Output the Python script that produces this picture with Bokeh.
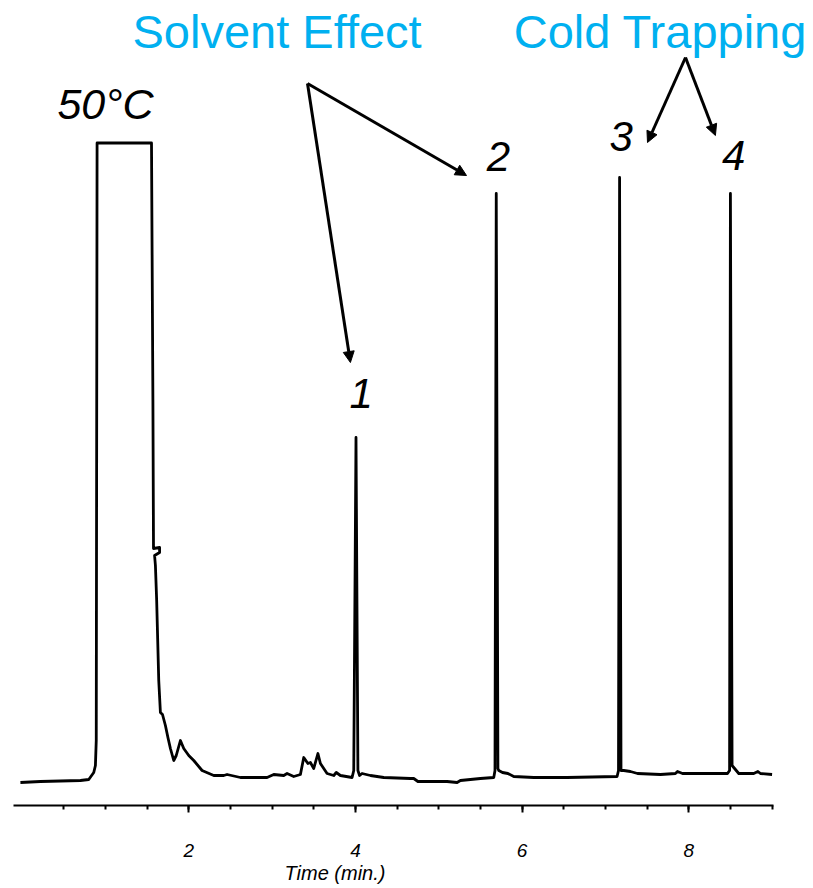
from bokeh.plotting import figure
from bokeh.models import FixedTicker, Label, Arrow, NormalHead, Range1d, Title
from bokeh.embed import file_html
from bokeh.resources import INLINE

# ---- data (time in min, detector signal in arbitrary units) ----
time_min = [
    -0.02, 0.22, 0.46, 0.70, 0.80, 0.86, 0.88, 0.89, 0.90,
    1.553, 1.57, 1.577, 1.65, 1.65, 1.59, 1.60, 1.615, 1.64, 1.66, 1.685,
    1.72, 1.75, 1.78, 1.82, 1.85, 1.90, 1.94, 2.00, 2.06, 2.16, 2.30, 2.42,
    2.46, 2.62, 2.94, 3.02, 3.14, 3.18, 3.26, 3.34, 3.38, 3.43, 3.46, 3.50,
    3.55, 3.58, 3.66, 3.74, 3.77, 3.82, 3.96, 3.98, 4.007, 4.03, 4.05, 4.08,
    4.18, 4.34, 4.66, 4.70, 4.75, 5.10, 5.22, 5.26, 5.50, 5.66, 5.675, 5.69,
    5.71, 5.72, 5.765, 5.83, 5.90, 6.14, 6.54, 7.14, 7.157, 7.17, 7.187,
    7.22, 7.30, 7.385, 7.66, 7.84, 7.865, 7.925, 8.14, 8.465, 8.49, 8.50,
    8.52, 8.54, 8.60, 8.78, 8.83, 8.86, 9.00,
]
signal = [
    -2, -1, -0.5, 0, 1, 8, 15, 40, 637.5,
    637.5, 380, 232, 233, 228, 225, 215, 180, 100, 68, 66,
    55, 43, 32, 20, 25, 40, 32, 25, 20, 10, 5, 5,
    6, 3, 3, 6, 5, 7, 4, 6, 23, 17, 18, 12,
    27, 17, 7, 5, 8, 5, 3, 10, 343, 10, 5, 7,
    5, 3, 2, 2, -1, -1, -2, 0, 2, 3, 10, 587,
    12, 10, 8, 7, 4, 3, 3, 4, 10, 603, 10,
    10, 9, 7, 6, 7, 9, 7, 7, 7, 10, 587,
    15, 13, 7, 7, 9, 7, 6,
]

major_ticks = [2, 4, 6, 8]
minor_ticks = [0.5 * i for i in range(1, 19)]
axis_bounds = (-0.1, 9.02)

peak_names = ["1", "2", "3", "4"]
peak_label_x = [4.07, 5.716, 7.19, 8.54]
peak_label_y = [387, 624, 644, 625]

BLUE = "#00B0F0"
FONT = "Liberation Sans"

p = figure(width=813, height=888, output_backend="svg", toolbar_location=None,
           x_range=Range1d(-0.259, 9.497), y_range=Range1d(-25, 780),
           y_axis_location=None, min_border_left=0, min_border_right=0,
           min_border_top=0, min_border_bottom=83)
p.outline_line_color = None
p.xgrid.grid_line_color = None
p.ygrid.grid_line_color = None
p.background_fill_color = "white"
p.border_fill_color = "white"

p.line(time_min, signal, line_color="black", line_width=2.8, line_join="round")

ax = p.xaxis[0]
ax.ticker = FixedTicker(ticks=major_ticks, minor_ticks=minor_ticks)
ax.bounds = axis_bounds
ax.axis_line_width = 2
ax.axis_line_color = "black"
ax.major_tick_line_width = 2
ax.minor_tick_line_width = 2
ax.major_tick_in = 0
ax.major_tick_out = 7
ax.minor_tick_in = 0
ax.minor_tick_out = 4
ax.major_label_standoff = 31
ax.major_label_text_font = FONT
ax.major_label_text_font_style = "italic"
ax.major_label_text_font_size = "19px"
ax.major_label_text_color = "black"

# axis title, placed left of centre as in the original
p.add_layout(Title(text="Time (min.)", align="left", offset=284, standoff=0,
                   text_font=FONT, text_font_style="italic",
                   text_font_size="20px", text_color="black"), "below")

# headings
p.add_layout(Label(x=3.06, y=749, text="Solvent Effect", text_align="center",
                   text_baseline="alphabetic", text_font=FONT,
                   text_font_size="47px", text_color=BLUE))
p.add_layout(Label(x=5.90, y=749, text="Cold Trapping", text_align="left",
                   text_baseline="alphabetic", text_font=FONT,
                   text_font_size="47px", text_color=BLUE))
p.add_layout(Label(x=1.0, y=677, text="50°C", text_align="center",
                   text_baseline="alphabetic", text_font=FONT,
                   text_font_style="italic", text_font_size="43px",
                   text_color="black"))

for name, lx, ly in zip(peak_names, peak_label_x, peak_label_y):
    p.add_layout(Label(x=lx, y=ly, text=name, text_align="center",
                       text_baseline="alphabetic", text_font=FONT,
                       text_font_style="italic", text_font_size="42px",
                       text_color="black"))

def arrow(x0, y0, x1, y1):
    p.add_layout(Arrow(end=NormalHead(size=11, fill_color="black",
                                      line_color="black", line_width=1),
                       x_start=x0, y_start=y0, x_end=x1, y_end=y1,
                       line_color="black", line_width=3))

arrow(3.425, 697, 3.94, 418)
arrow(3.425, 697, 5.333, 605)
arrow(7.961, 723, 7.505, 638)
arrow(7.961, 723, 8.32, 645)

open("out.html", "w").write(file_html(p, INLINE))
